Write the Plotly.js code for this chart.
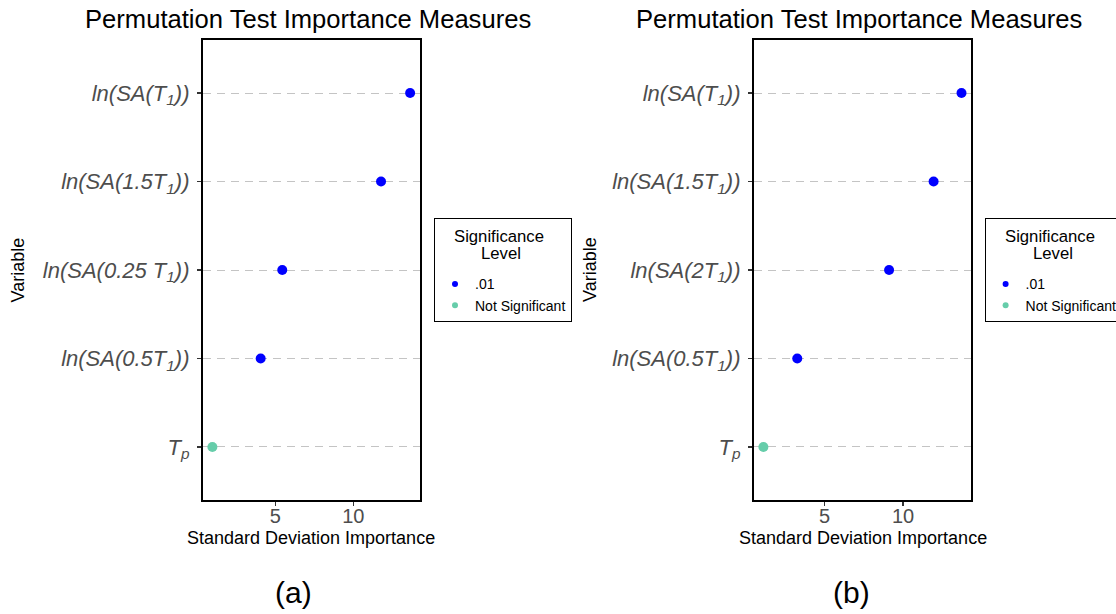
<!DOCTYPE html>
<html>
<head>
<meta charset="utf-8">
<script src="https://cdn.plot.ly/plotly-3.0.1.min.js"></script>
<style>
  html, body { margin: 0; padding: 0; background: #ffffff; }
  #chart { width: 1116px; height: 614px; }
</style>
</head>
<body>
<div id="chart"></div>
<script>
// Variables listed top to bottom, as they appear on each panel
const varsA = [
  "ln(SA(T<sub>1</sub>))",
  "ln(SA(1.5T<sub>1</sub>))",
  "ln(SA(0.25 T<sub>1</sub>))",
  "ln(SA(0.5T<sub>1</sub>))",
  "T<sub>p</sub>"
];
const importanceA = [13.63, 11.77, 5.45, 4.07, 0.98];
const signifA = [".01", ".01", ".01", ".01", "Not Significant"];

const varsB = [
  "ln(SA(T<sub>1</sub>))",
  "ln(SA(1.5T<sub>1</sub>))",
  "ln(SA(2T<sub>1</sub>))",
  "ln(SA(0.5T<sub>1</sub>))",
  "T<sub>p</sub>"
];
const importanceB = [13.73, 11.95, 9.11, 3.25, 1.09];
const signifB = [".01", ".01", ".01", ".01", "Not Significant"];

const levels = [".01", "Not Significant"];
const levelColors = ["#0000FF", "#66CDAA"];
const xTicks = [5, 10];

const chartTitle = "Permutation Test Importance Measures";
const xTitle = "Standard Deviation Importance";
const yTitle = "Variable";
const legendTitleLines = ["Significance", "Level"];
const panelLabels = ["(a)", "(b)"];

const FONT = "Liberation Sans, Arial, Helvetica, sans-serif";
const W = 1116, H = 614;
const px = v => v / W;
const py = v => 1 - v / H;

// 5% padding on both sides of the data range
function paddedRange(vals) {
  const lo = Math.min(...vals), hi = Math.max(...vals);
  const pad = (hi - lo) * 0.05;
  return [lo - pad, hi + pad];
}

function panelTraces(vars, vals, sig, xa, ya) {
  return levels.map((lvl, k) => {
    const idx = sig.map((s, i) => s === lvl ? i : -1).filter(i => i >= 0);
    return {
      type: "scatter", mode: "markers",
      x: idx.map(i => vals[i]), y: idx.map(i => vars[i]),
      xaxis: xa, yaxis: ya,
      marker: { color: levelColors[k], size: 10 },
      showlegend: false, hoverinfo: "x+y"
    };
  });
}

// Legend entries with small keys
function legendTraces(legendId, xa, ya) {
  return levels.map((lvl, k) => ({
    type: "scatter", mode: "markers",
    x: [null], y: [null], xaxis: xa, yaxis: ya,
    name: lvl, legend: legendId,
    marker: { color: levelColors[k], size: 6 },
    showlegend: true
  }));
}

const data = [
  ...panelTraces(varsA, importanceA, signifA, "x", "y"),
  ...panelTraces(varsB, importanceB, signifB, "x2", "y2"),
  ...legendTraces("legend", "x", "y"),
  ...legendTraces("legend2", "x2", "y2")
];

function xAxis(domain, range, anchor) {
  return {
    domain: domain, range: range, anchor: anchor,
    tickmode: "array", tickvals: xTicks, ticktext: xTicks.map(String),
    ticks: "outside", ticklen: 4, tickwidth: 1.2, tickcolor: "#333333",
    ticklabelstandoff: -7,
    tickfont: { family: FONT, size: 20, color: "#4D4D4D" },
    showgrid: false, zeroline: false,
    showline: true, linecolor: "#000000", linewidth: 1.6, mirror: true,
    fixedrange: true
  };
}

function yAxis(vars, anchor) {
  return {
    domain: [py(500), py(40)], anchor: anchor,
    type: "category", categoryorder: "array",
    categoryarray: vars.slice().reverse(),
    range: [-0.6, vars.length - 0.4],
    ticks: "outside", ticklen: 4, tickwidth: 1.2, tickcolor: "#333333",
    ticklabelstandoff: 3,
    tickfont: { family: FONT, size: 22, color: "#4D4D4D", style: "italic" },
    showgrid: true, gridcolor: "#C4C4C4", gridwidth: 1, griddash: "8px,6px",
    zeroline: false,
    showline: true, linecolor: "#000000", linewidth: 1.6, mirror: true,
    fixedrange: true
  };
}

// Legend box; the two-line heading is drawn as centred annotations,
// the blank title only reserves its space
function legendBox(xLeft) {
  return {
    x: px(xLeft), xanchor: "left", y: py(218), yanchor: "top",
    bgcolor: "#FFFFFF", bordercolor: "#000000", borderwidth: 1,
    font: { family: FONT, size: 14, color: "#000000" },
    title: { text: "&nbsp;<br>&nbsp;", side: "top",
             font: { family: FONT, size: 19, color: "#000000" } },
    itemsizing: "trace", tracegroupgap: 0
  };
}

function text(t, x, y, size, extra) {
  return Object.assign({
    text: t, xref: "paper", yref: "paper", x: px(x), y: py(y),
    xanchor: "center", yanchor: "middle", showarrow: false,
    font: { family: FONT, size: size, color: "#000000" }
  }, extra || {});
}

const layout = {
  width: W, height: H,
  // fixed margins: the right legend runs to the page edge
  margin: { l: 0, r: 0, t: 0, b: 0, autoexpand: false },
  paper_bgcolor: "#FFFFFF", plot_bgcolor: "#FFFFFF",
  showlegend: true,
  xaxis: xAxis([px(202.5), px(420)], paddedRange(importanceA), "y"),
  yaxis: yAxis(varsA, "x"),
  xaxis2: xAxis([px(753.5), px(971.4)], paddedRange(importanceB), "y2"),
  yaxis2: yAxis(varsB, "x2"),
  legend: legendBox(434),
  legend2: legendBox(984.6),
  annotations: [
    text(chartTitle, 308, 19, 25.6),
    text(chartTitle, 858.7, 19, 25.6),
    text(xTitle, 311, 538, 18),
    text(xTitle, 862.5, 538, 18),
    text(yTitle, 17.5, 270, 18, { textangle: -90 }),
    text(yTitle, 590, 270, 18, { textangle: -90 }),
    text(panelLabels[0], 293, 592, 30),
    text(panelLabels[1], 851, 592, 30),
    text(legendTitleLines[0], 498.5, 236.5, 16.7),
    text(legendTitleLines[1], 501, 254, 16.7),
    text(legendTitleLines[0], 1050, 236.5, 16.7),
    text(legendTitleLines[1], 1052.5, 254, 16.7)
  ]
};

Plotly.newPlot("chart", data, layout, { staticPlot: true, displayModeBar: false });
</script>
</body>
</html>
